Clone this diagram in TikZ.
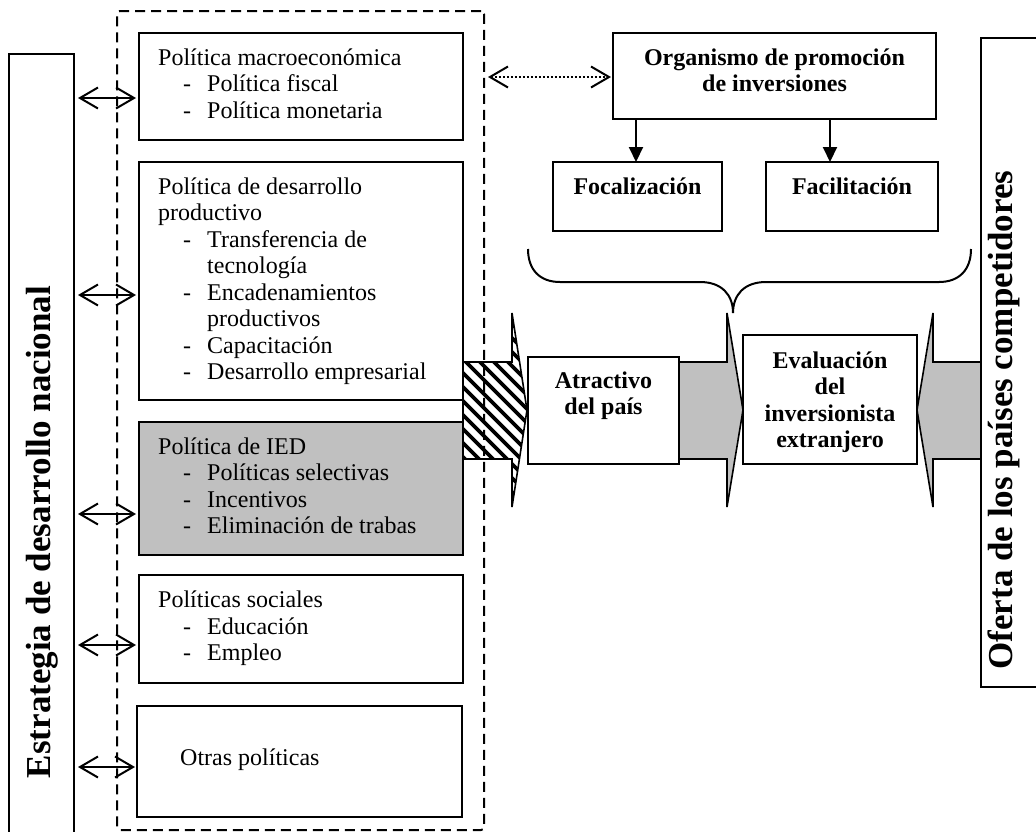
\documentclass[tikz,border=0pt]{standalone}
\usepackage{fontspec}
\setmainfont{Liberation Serif}
\usetikzlibrary{arrows.meta}
\newcommand\fs{\fontsize{24}{26.5}\selectfont}
\newcommand\fsbig{\fontsize{35}{38}\selectfont}
\definecolor{panelgrey}{HTML}{C0C0C0}
\tikzset{
  box/.style={draw, line width=2pt, fill=white, inner sep=0pt, outer sep=0pt, anchor=north west},
  lbl/.style={anchor=base west, inner sep=0pt, font=\fs},
  blbl/.style={anchor=base, inner sep=0pt, font=\fs\bfseries},
  vlbl/.style={rotate=90, inner sep=0pt, font=\fsbig\bfseries},
  dbl/.style={line width=2pt, {Straight Barb[length=18pt,width=21pt]}-{Straight Barb[length=18pt,width=21pt]}},
  dotarrow/.style={line width=2pt, dash pattern=on 2pt off 2pt,
    {Straight Barb[length=18pt,width=21pt]}-{Straight Barb[length=18pt,width=21pt]}},
  down/.style={line width=2pt, -{Triangle[length=15pt,width=14pt]}},
  bigarrow/.style={line width=1.6pt, line join=miter},
}
% one line of a policy list: dash and item text
\newcommand\polrow[2]{\node[lbl] at (183,#1) {-}; \node[lbl] at (207,#1) {#2};}
\newcommand\polcont[2]{\node[lbl] at (207,#1) {#2};}
\newcommand\polhead[2]{\node[lbl] at (158,#1) {#2};}

\begin{document}
\begin{tikzpicture}[x=1pt, y=-1pt]
\useasboundingbox (0,0) rectangle (1036,831);
\clip (0,0) rectangle (1036,831);

% hatched arrow leaving the policy block
\begin{scope}
  \clip (463,362) -- (512,362) -- (512,313) -- (527,410) -- (512,507) -- (512,459) -- (463,459) -- cycle;
  \foreach \k in {0,...,20}
    \draw[line width=3.6pt] (250+14*\k,300) -- ++(260,260);
\end{scope}
\draw[bigarrow] (463,362) -- (512,362) -- (512,313) -- (527,410) -- (512,507) -- (512,459) -- (463,459) -- cycle;

% grey arrows towards the investor's evaluation
\draw[bigarrow, fill=panelgrey] (679,362) -- (727,362) -- (727,313) -- (743,410) -- (727,507) -- (727,459) -- (679,459) -- cycle;
\draw[bigarrow, fill=panelgrey] (981,362) -- (933,362) -- (933,313) -- (917,410) -- (933,507) -- (933,459) -- (981,459) -- cycle;

% national development strategy
\node[box, minimum width=65pt, minimum height=820pt] (strat) at (9,54) {};
\node[vlbl] (stratlbl) at (42,532) {Estrategia de desarrollo nacional};

% competing countries
\node[box, minimum width=90pt, minimum height=649pt] (comp) at (981,38) {};
\node[vlbl] (complbl) at (1004,420) {Oferta de los países competidores};

% policy boxes
\node[box, minimum width=324pt, minimum height=107pt] (macro) at (139,33) {};
\polhead{65}{Política macroeconómica}
\polrow{91.5}{Política fiscal}
\polrow{118}{Política monetaria}

\node[box, minimum width=324pt, minimum height=238pt] (prod) at (139,162) {};
\polhead{194}{Política de desarrollo}
\polhead{220.5}{productivo}
\polrow{247}{Transferencia de}
\polcont{273.5}{tecnología}
\polrow{300}{Encadenamientos}
\polcont{326.5}{productivos}
\polrow{353}{Capacitación}
\polrow{379.5}{Desarrollo empresarial}

\node[box, fill=panelgrey, minimum width=324pt, minimum height=133pt] (ied) at (139,422) {};
\polhead{454}{Política de IED}
\polrow{480.5}{Políticas selectivas}
\polrow{507}{Incentivos}
\polrow{533.5}{Eliminación de trabas}

\node[box, minimum width=324pt, minimum height=108pt] (social) at (139,575) {};
\polhead{607.5}{Políticas sociales}
\polrow{634}{Educación}
\polrow{660.5}{Empleo}

\node[box, minimum width=325pt, minimum height=111pt] (otras) at (137,706) {};
\node[lbl] at (180,765) {Otras políticas};

% dashed frame around the policies
\node[draw, dash pattern=on 10pt off 6pt, line width=2pt, rounded corners=3pt,
      inner sep=0pt, outer sep=0pt, anchor=north west,
      minimum width=367pt, minimum height=819pt] (frame) at (117,11) {};

% investment promotion agency
\node[box, minimum width=323pt, minimum height=86pt] (org) at (613,33) {};
\node[blbl] at (774.5,65) {Organismo de promoción};
\node[blbl] at (774.5,91.5) {de inversiones};

\node[box, minimum width=169pt, minimum height=69pt] (foc) at (553,162) {};
\node[blbl] at (637.5,194) {Focalización};
\node[box, minimum width=172pt, minimum height=69pt] (fac) at (766,162) {};
\node[blbl] at (852,194) {Facilitación};

% attractiveness and evaluation
\node[box, minimum width=151pt, minimum height=107pt] (atr) at (528,357) {};
\node[blbl] at (603.5,388) {Atractivo};
\node[blbl] at (603.5,414.5) {del país};

\node[box, minimum width=174pt, minimum height=129pt] (eval) at (743,335) {};
\node[blbl] at (830,368) {Evaluación};
\node[blbl] at (830,394.5) {del};
\node[blbl] at (830,421) {inversionista};
\node[blbl] at (830,447.5) {extranjero};

% links between strategy and each policy
\draw[dbl, shorten <=4pt, shorten >=3pt] (strat.east |- 0,98) -- (macro.west |- 0,98);
\draw[dbl, shorten <=4pt, shorten >=3pt] (strat.east |- 0,295) -- (prod.west |- 0,295);
\draw[dbl, shorten <=4pt, shorten >=3pt] (strat.east |- 0,514) -- (ied.west |- 0,514);
\draw[dbl, shorten <=4pt, shorten >=3pt] (strat.east |- 0,645) -- (social.west |- 0,645);
\draw[dbl, shorten <=4pt, shorten >=2pt] (strat.east |- 0,767) -- (otras.west |- 0,767);

% agency links
\draw[dotarrow, shorten <=4pt, shorten >=2pt] (frame.east |- 0,77) -- (org.west |- 0,77);
\draw[down] (org.south -| 636,0) -- (foc.north -| 636,0);
\draw[down] (org.south -| 830,0) -- (fac.north -| 830,0);

% brace gathering both functions
\draw[line width=2pt] (528,249) .. controls (528,270) and (540,282) .. (560,282)
  -- (700,282) .. controls (722,282) and (733,295) .. (733,313)
  .. controls (733,295) and (744,282) .. (766,282)
  -- (939,282) .. controls (959,282) and (971,270) .. (971,249);
\end{tikzpicture}
\end{document}
